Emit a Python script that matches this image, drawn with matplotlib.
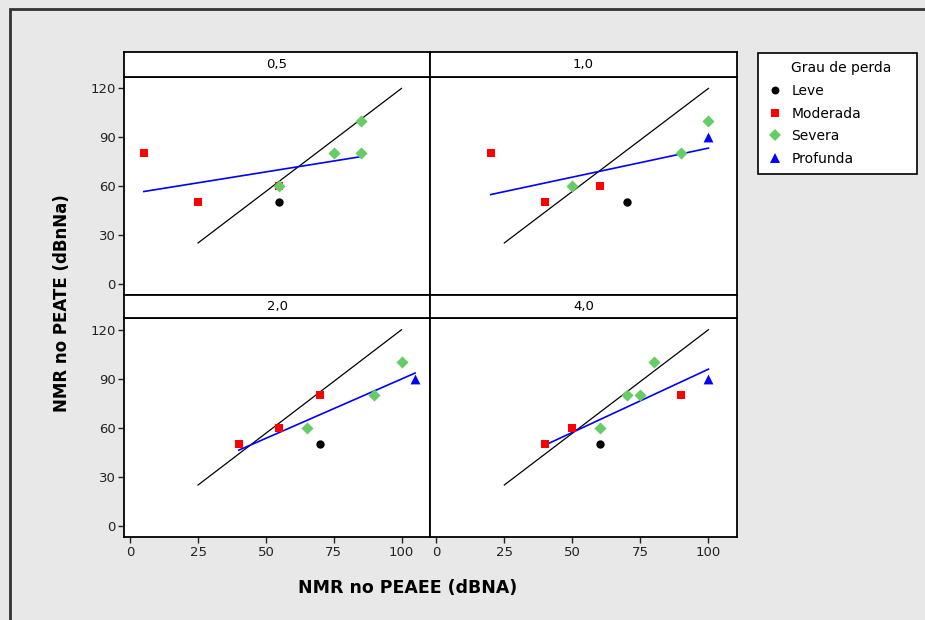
import matplotlib.pyplot as plt
from matplotlib.lines import Line2D
from matplotlib.patches import Rectangle
import numpy as np

# limiar por frequencia (kHz), um painel por frequencia
freqs = ['0,5', '1,0', '2,0', '4,0']

# NMR no PEAEE (x) e no PEATE (y) por grau de perda, um sublista por painel
leve_x = [[55], [70], [70], [60]]
leve_y = [[50], [50], [50], [50]]
moderada_x = [[5, 25, 55], [20, 40, 60], [40, 55, 70], [40, 50, 90]]
moderada_y = [[80, 50, 60], [80, 50, 60], [50, 60, 80], [50, 60, 80]]
severa_x = [[55, 75, 85, 85], [50, 90, 100], [65, 90, 100], [60, 70, 75, 80]]
severa_y = [[60, 80, 80, 100], [60, 80, 100], [60, 80, 100], [60, 80, 80, 100]]
profunda_x = [[], [100], [105], [100]]
profunda_y = [[], [90], [90], [90]]

# reta de referencia (igual em todos os paineis)
ref_x = [25, 100]
ref_y = [25, 120]

grupos = [
    ('Leve', leve_x, leve_y, 'o', 'black', 36),
    ('Moderada', moderada_x, moderada_y, 's', '#ff0000', 38),
    ('Severa', severa_x, severa_y, 'D', '#66cc66', 38),
    ('Profunda', profunda_x, profunda_y, '^', '#0000ff', 50),
]

plt.rcParams['font.family'] = 'DejaVu Sans'
fig = plt.figure(figsize=(9.25, 6.2), dpi=100)
fig.patch.set_facecolor('#e8e8e8')

# moldura externa
fig.patches.append(Rectangle((10 / 925, -0.05), 1.2, 1 - 9 / 620 + 0.05,
                             transform=fig.transFigure, fill=False,
                             edgecolor='#333333', lw=2))

col_x = [124 / 925, 430 / 925]
col_w = [306 / 925, 307 / 925]
row_b = [1 - 295 / 620, 1 - 537.3 / 620]
row_h = [218 / 620, 219 / 620]
strip_b = [1 - 76.7 / 620, 1 - 318.3 / 620]
strip_h = [24.4 / 620, 23.3 / 620]

for i, f in enumerate(freqs):
    r, c = divmod(i, 2)
    ax = fig.add_axes([col_x[c], row_b[r], col_w[c], row_h[r]])
    st = fig.add_axes([col_x[c], strip_b[r], col_w[c], strip_h[r]])
    st.set_xticks([])
    st.set_yticks([])
    st.text(0.5, 0.5, f, ha='center', va='center', fontsize=9.5,
            transform=st.transAxes)

    xs_all, ys_all = [], []
    for nome, gx, gy, mk, cor, s in grupos:
        xs_all += gx[i]
        ys_all += gy[i]

    ax.plot(ref_x, ref_y, color='black', lw=0.9, zorder=2)
    a, b = np.polyfit(xs_all, ys_all, 1)
    xr = np.array([min(xs_all), max(xs_all)])
    ax.plot(xr, a * xr + b, color='#0000ff', lw=1.2, zorder=2)

    for nome, gx, gy, mk, cor, s in grupos:
        if gx[i]:
            ax.scatter(gx[i], gy[i], marker=mk, s=s, color=cor,
                       linewidths=0, zorder=3)

    ax.set_xlim(-2.3, 110.5)
    ax.set_ylim(-7, 127)
    ax.set_xticks([0, 25, 50, 75, 100])
    ax.set_yticks([0, 30, 60, 90, 120])
    ax.tick_params(direction='out', length=4, width=1, labelsize=9.5,
                   colors='#222222', pad=2)
    if c == 1:
        ax.tick_params(left=False, labelleft=False)
    if r == 0:
        ax.tick_params(bottom=False, labelbottom=False)
    for a_ in (ax, st):
        for sp in a_.spines.values():
            sp.set_linewidth(1.3)

fig.text(62 / 925, 1 - 303 / 620, 'NMR no PEATE (dBnNa)', rotation=90,
         ha='center', va='center', fontsize=12, fontweight='bold')
fig.text(408 / 925, 1 - 588 / 620, 'NMR no PEAEE (dBNA)',
         ha='center', va='center', fontsize=12.5, fontweight='bold')

handles = [Line2D([], [], linestyle='none', marker=None)]
labels = ['Grau de perda']
for nome, gx, gy, mk, cor, s in grupos:
    handles.append(Line2D([], [], linestyle='none', marker=mk, color=cor,
                          markersize=np.sqrt(s) * 0.95, markeredgewidth=0))
    labels.append(nome)
leg = fig.legend(handles, labels, loc='upper left',
                 bbox_to_anchor=(758 / 925, 1 - 171 / 620,
                                 159 / 925, 118 / 620),
                 mode='expand', fontsize=10, frameon=True, fancybox=False,
                 handletextpad=0.6, handlelength=1.2, labelspacing=0.62,
                 borderpad=0.6, borderaxespad=0)
leg.get_frame().set_edgecolor('black')
leg.get_frame().set_linewidth(1.2)
leg.get_frame().set_facecolor('white')
leg.get_frame().set_alpha(1)

fig.savefig('out.png', dpi=100, facecolor=fig.get_facecolor())
